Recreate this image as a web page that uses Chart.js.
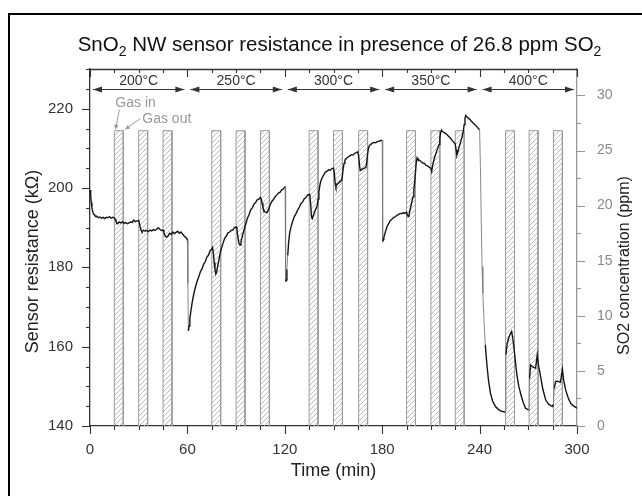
<!DOCTYPE html>
<html><head><meta charset="utf-8">
<script src="https://cdn.jsdelivr.net/npm/chart.js@4.4.1/dist/chart.umd.min.js"></script>
<style>
html,body{margin:0;padding:0;background:#fff;overflow:hidden}
#wrap{position:relative;width:642px;height:496px}
#frame{position:absolute;left:8px;top:13px;width:700px;height:600px;border:2px solid #000;box-sizing:border-box;pointer-events:none}
canvas{position:absolute;left:0;top:0}
</style></head><body>
<div id="wrap"><canvas id="c" width="642" height="496"></canvas><div id="frame"></div></div>
<script>
// ---------- DATA ----------
const TEMP_LABELS = ['200°C','250°C','300°C','350°C','400°C'];
const TEMP_START = [0, 60, 120, 180, 240];
const TEMP_END   = [60, 120, 180, 240, 300];
const GAS_IN  = [15, 30, 45, 75, 90, 105, 135, 150, 165.5, 195, 210, 225, 256, 270.5, 285.5];
const GAS_OUT = [20.5, 35.5, 50.5, 80.5, 95.5, 110.5, 140.5, 155.5, 171, 200.5, 215.5, 230.5, 261.5, 276, 291];
const SO2_PPM = 26.8;

const T200 = [0,0.4,0.8,1.2,1.6,2,2.5,3,3.5,4,5,6,7,8,9,10,11,12,13,14,15,15.5,16,16.5,17,18,19,20,21,22,23,24,25,26,27,28,29,30,30.5,31,31.5,32,33,34,35,36,37,38,39,40,41,42,43,44,45,45.5,46,46.5,47,48,49,50,51,52,53,54,55,56,57,58,59,59.8];
const R200 = [199.5,198,196.3,195,194.2,193.7,193.3,193.1,192.8,192.9,192.5,192.7,192.4,192.6,192.3,192.6,192.5,192.8,192.4,192.6,192.5,192.1,191.6,191.2,191.0,191.4,191.2,191.5,191.1,191.3,191.0,191.2,191.4,191.3,191.9,191.5,191.7,191.8,191.0,190.0,189.3,189.0,189.4,189.1,189.3,189.0,189.4,189.2,189.5,189.3,189.6,190.0,189.6,189.3,189.4,188.8,188.2,187.8,187.6,187.9,188.6,188.3,188.9,188.5,188.8,189.1,188.6,188.9,188.4,187.9,187.5,187.1];

const T250 = [60,60.3,60.6,61,61.5,62,63,64,65,66,67,68,69,70,71,72,73,74,75,75.5,76,76.5,77,77.5,78,79,80,81,82,83,84,85,86,87,88,89,90,90.5,91,91.5,92,92.5,93,94,95,96,97,98,99,100,101,102,103,104,105,105.5,106,106.5,107,107.5,108,109,110,111,112,113,114,115,116,117,118,119,120];
const R250 = [186.8,176,164,165.2,167,168.6,171.3,173.4,175.1,176.5,177.6,178.9,179.6,180.8,181.4,182.6,183.1,184.2,184.6,185.0,183.5,181.2,179.4,178.3,178.9,181.0,183.2,184.9,186.1,187.4,187.9,188.7,188.9,189.3,189.4,190.0,190.2,189.6,188.0,186.6,185.8,185.6,186.4,188.2,189.6,191.0,192.4,193.3,194.5,195.0,195.9,196.3,197.0,197.2,197.6,197.2,196.2,195.2,194.6,194.1,193.9,193.8,194.6,195.8,196.6,197.1,197.8,198.2,198.7,198.9,199.5,199.7,200.3];

const T300 = [120.2,120.4,120.6,120.8,121.3,121.8,122.4,123,124,125,126,127,128,129,130,131,132,133,134,135,135.5,136,136.5,137,138,139,140,140.5,141,141.5,142,143,144,145,146,147,148,149,150,150.5,151,151.5,152,153,154,155,155.5,156,156.5,157,158,159,160,161,162,163,164,165,165.5,166,166.5,167,168,169,170,170.5,171,171.5,172,173,174,175,176,177,178,179,180];
const R300 = [200.4,190,176.4,176.8,179.5,183,186.5,188.7,190.5,191.8,192.9,193.6,194.5,195.2,196.1,196.5,197.3,197.6,198.2,198.4,197.8,195.5,192.6,192.3,193.6,194.6,195.6,197.2,199.0,200.4,201.5,202.6,203.3,204.0,204.2,204.6,204.5,204.9,205.0,203.8,201.2,200.3,200.8,201.2,201.6,201.9,203.2,205.0,206.2,207.0,207.5,207.8,208.1,208.4,208.3,208.7,208.9,209.1,208.0,205.8,204.4,204.5,204.8,205.0,205.2,206.6,208.6,209.9,210.6,211.0,211.3,211.5,211.4,211.7,211.8,211.9,212.1];

const T350 = [180.2,180.4,180.6,181,182,183,184,185,186,187,188,189,190,191,192,193,194,195,195.5,196,196.5,197,198,199,199.5,200,200.5,201,201.5,202,203,204,205,206,207,208,209,210,210.5,211,212,213,214,215,215.5,216,216.5,217,218,219,220,221,222,223,224,225,225.5,226,226.5,227,228,229,230,230.5,231,231.5,232,233,234,235,236,237,238,239,240];
const R350 = [200,186.5,187.0,187.5,189.0,190.3,191.0,191.8,192.1,192.6,192.7,193.1,193.3,193.6,193.5,193.8,193.6,193.9,193.2,192.8,193.2,194.2,196.0,197.8,199.5,201.5,204.0,206.5,207.6,207.2,207.0,206.6,206.3,206.2,205.7,205.6,205.2,205.0,204.2,205.6,207.3,208.6,209.8,211.0,212.5,214.0,214.6,214.3,214.0,213.8,213.4,213.0,212.6,212.0,211.6,211.1,209.6,208.3,208.9,209.8,211.2,212.5,214.4,216.0,217.6,218.3,218.0,217.6,217.3,216.8,216.4,216.0,215.6,215.1,214.7];

const T400 = [240.5,241,241.5,242,242.6,243.5,244.6,245.5,246.7,248,249.8,251.5,253,254.9,255.8,256.2,257,258,259,259.7,260.3,261.1,262,263,264.2,265.5,266.8,268.3,269.5,270.4,270.8,271.4,272.5,273.5,274.5,275.5,276.2,277.6,279,280.7,282.5,284.8,285.5,286,286.8,288,289.8,291,291.8,293,294.5,296.1,298,300];
const R400 = [205.4,192,180.2,173.5,167.6,160.5,155,151.5,148.2,146.3,144.9,144.2,143.8,143.6,143.5,158,160.8,162.3,163.3,163.8,162.5,160,156.5,152.8,149.9,147.8,146,144.5,144.2,144,152,155.4,155,154.7,154.6,157.9,155.5,152.4,149.2,146.6,145.5,144.9,145.5,149.5,151.2,151.3,151,154.3,151.5,149.1,147.2,145.7,145,144.5];

// ---------- BUILD ----------
const FONT = "'Liberation Sans', Arial, Helvetica, sans-serif";
Chart.defaults.font.family = FONT;

const resistance = [];
[[T200,R200],[T250,R250],[T300,R300],[T350,R350],[T400,R400]].forEach(([t,r]) => {
  t.forEach((v,i) => resistance.push({x:v, y:r[i]}));
});
const gas = [{x:0,y:0}];
GAS_IN.forEach((t,i) => {
  gas.push({x:t,y:0},{x:t,y:SO2_PPM},{x:GAS_OUT[i],y:SO2_PPM},{x:GAS_OUT[i],y:0});
});
gas.push({x:300,y:0});

function hatchPattern(){
  const c = document.createElement('canvas'); c.width = 5; c.height = 5;
  const g = c.getContext('2d');
  g.strokeStyle = '#b4b4b4'; g.lineWidth = 0.9;
  g.beginPath();
  g.moveTo(0,5); g.lineTo(5,0);
  g.moveTo(-1,1); g.lineTo(1,-1);
  g.moveTo(4,6); g.lineTo(6,4);
  g.stroke();
  return g.createPattern(c,'repeat');
}

function arrowHead(ctx, x, y, ang, len, hw){
  ctx.beginPath();
  ctx.moveTo(x,y);
  ctx.lineTo(x - len*Math.cos(ang) + hw*Math.sin(ang), y - len*Math.sin(ang) - hw*Math.cos(ang));
  ctx.lineTo(x - len*Math.cos(ang) - hw*Math.sin(ang), y - len*Math.sin(ang) + hw*Math.cos(ang));
  ctx.closePath(); ctx.fill();
}

function steep(c){
  const dx = Math.abs(c.p1.parsed.x - c.p0.parsed.x) || 1e-6;
  return Math.abs(c.p1.parsed.y - c.p0.parsed.y) / dx > 6;
}

const decor = {
  id:'decor',
  afterDraw(chart){
    const {ctx, chartArea:a, scales:{x,y,y2}} = chart;
    ctx.save();
    // top frame line
    ctx.strokeStyle = '#333'; ctx.lineWidth = 1.3;
    ctx.beginPath(); ctx.moveTo(a.left, a.top+0.5); ctx.lineTo(a.right, a.top+0.5); ctx.stroke();
    // x ticks (bottom outward, top inward)
    ctx.lineWidth = 1.1;
    for (let v = 0; v <= 300; v += 15){
      const px = Math.round(x.getPixelForValue(v)) + 0.5, L = (v % 60 === 0) ? 8 : 4;
      ctx.beginPath();
      ctx.moveTo(px, a.bottom); ctx.lineTo(px, a.bottom + L);
      ctx.moveTo(px, a.top); ctx.lineTo(px, a.top + L);
      ctx.stroke();
    }
    // left y ticks
    for (let v = 140; v <= 230; v += 5){
      const py = Math.round(y.getPixelForValue(v)) + 0.5, L = (v % 20 === 0) ? 8 : 4;
      ctx.beginPath(); ctx.moveTo(a.left - L, py); ctx.lineTo(a.left, py); ctx.stroke();
    }
    // right y2 ticks
    ctx.strokeStyle = '#999';
    for (let v = 0; v <= 32.4; v += 2.5){
      const py = Math.round(y2.getPixelForValue(v)) + 0.5, L = (v % 5 === 0) ? 8 : 4;
      ctx.beginPath(); ctx.moveTo(a.right, py); ctx.lineTo(a.right + L, py); ctx.stroke();
    }
    // temperature band
    ctx.strokeStyle = '#333'; ctx.fillStyle = '#333'; ctx.lineWidth = 1.1;
    ctx.font = '14px ' + FONT; ctx.textAlign = 'center'; ctx.textBaseline = 'middle';
    const yA = a.top + 20.5;
    TEMP_LABELS.forEach((lab,i) => {
      const x0 = x.getPixelForValue(TEMP_START[i]) + 3, x1 = x.getPixelForValue(TEMP_END[i]) - 3;
      ctx.beginPath(); ctx.moveTo(x0, yA); ctx.lineTo(x1, yA); ctx.stroke();
      arrowHead(ctx, x0, yA, Math.PI, 9, 3);
      arrowHead(ctx, x1, yA, 0, 9, 3);
      ctx.fillText(lab, (x0 + x1) / 2, a.top + 12.5);
    });
    // gas in / gas out annotation
    const xi = x.getPixelForValue(GAS_IN[0]), xo = x.getPixelForValue(GAS_OUT[0]), yt = y2.getPixelForValue(SO2_PPM);
    ctx.fillStyle = '#9a9a9a'; ctx.strokeStyle = '#9a9a9a'; ctx.lineWidth = 1;
    ctx.textAlign = 'left';
    ctx.fillText('Gas in', xi + 1, yt - 28);
    ctx.fillText('Gas out', xo + 19, yt - 12);
    ctx.beginPath(); ctx.moveTo(xi + 5, yt - 21); ctx.lineTo(xi + 1.5, yt - 3); ctx.stroke();
    arrowHead(ctx, xi + 1, yt - 1, Math.atan2(20, -4), 5, 2.2);
    ctx.beginPath(); ctx.moveTo(xo + 17, yt - 12); ctx.lineTo(xo + 4, yt - 3); ctx.stroke();
    arrowHead(ctx, xo + 1.5, yt - 1, Math.atan2(11, -15.5), 5, 2.2);
    // axis titles (both read bottom-to-top)
    const midY = (a.top + a.bottom) / 2;
    ctx.fillStyle = '#222'; ctx.textAlign = 'center'; ctx.textBaseline = 'middle';
    ctx.save();
    ctx.translate(33, midY + 14); ctx.rotate(-Math.PI / 2);
    ctx.font = '18px ' + FONT;
    ctx.fillText('Sensor resistance (kΩ)', 0, 0);
    ctx.restore();
    ctx.save();
    ctx.translate(625, midY + 18); ctx.rotate(-Math.PI / 2);
    ctx.font = '16px ' + FONT;
    ctx.fillText('SO2 concentration (ppm)', 0, 0);
    ctx.restore();
    // chart title with subscripts
    const parts = [['SnO',0],['2',1],[' NW sensor resistance in presence of 26.8 ppm SO',0],['2',1]];
    const big = '20.5px ' + FONT, small = '14px ' + FONT;
    let w = 0;
    parts.forEach(([s,sub]) => { ctx.font = sub ? small : big; w += ctx.measureText(s).width; });
    let cx = (a.left + a.right) / 2 + 6 - w / 2;
    ctx.fillStyle = '#111'; ctx.textAlign = 'left'; ctx.textBaseline = 'alphabetic';
    parts.forEach(([s,sub]) => {
      ctx.font = sub ? small : big;
      ctx.fillText(s, cx, sub ? 56 : 51);
      cx += ctx.measureText(s).width;
    });
    ctx.restore();
  }
};

new Chart(document.getElementById('c'), {
  type: 'line',
  data: {
    datasets: [
      {
        label: 'Sensor resistance',
        data: resistance, yAxisID: 'y', xAxisID: 'x',
        borderColor: '#151515', borderWidth: 1.4, pointRadius: 0, tension: 0, fill: false, order: 1,
        segment: {
          borderColor: c => steep(c) ? '#7a7a7a' : undefined,
          borderWidth: c => steep(c) ? 0.9 : undefined
        }
      },
      {
        label: 'SO2 concentration',
        data: gas, yAxisID: 'y2', xAxisID: 'x',
        borderColor: '#9a9a9a', borderWidth: 1, pointRadius: 0, tension: 0,
        fill: 'origin', backgroundColor: hatchPattern(), order: 2,
        segment: { borderColor: c => (c.p0.parsed.y === 0 && c.p1.parsed.y === 0) ? 'rgba(0,0,0,0)' : '#9a9a9a' }
      }
    ]
  },
  options: {
    responsive: false, animation: false, devicePixelRatio: 1,
    layout: { padding: { top: 69, left: 0, right: 0, bottom: 0 } },
    plugins: { legend: { display: false }, tooltip: { enabled: false }, title: { display: false } },
    scales: {
      x: {
        type: 'linear', min: 0, max: 300, position: 'bottom',
        ticks: { stepSize: 60, color: '#333', font: { size: 15 }, padding: 7, autoSkip: false, maxRotation: 0 },
        grid: { display: false },
        border: { display: true, color: '#333', width: 1.3 },
        title: { display: true, text: 'Time (min)', color: '#222', font: { size: 18 }, padding: { top: 0, bottom: 14 } },
        afterFit: s => { s.height = 70; }
      },
      y: {
        type: 'linear', min: 140, max: 230, position: 'left',
        ticks: { stepSize: 20, includeBounds: false, color: '#333', font: { size: 15 }, padding: 9 },
        grid: { display: false },
        border: { display: true, color: '#333', width: 1.3 },
        afterFit: s => { s.width = 90; }
      },
      y2: {
        type: 'linear', min: 0, max: 32.4, position: 'right',
        ticks: { stepSize: 5, includeBounds: false, color: '#8a8a8a', font: { size: 14 }, padding: 12 },
        grid: { display: false },
        border: { display: true, color: '#999', width: 1.3 },
        afterFit: s => { s.width = 65; }
      }
    }
  },
  plugins: [decor]
});
</script>
</body></html>
